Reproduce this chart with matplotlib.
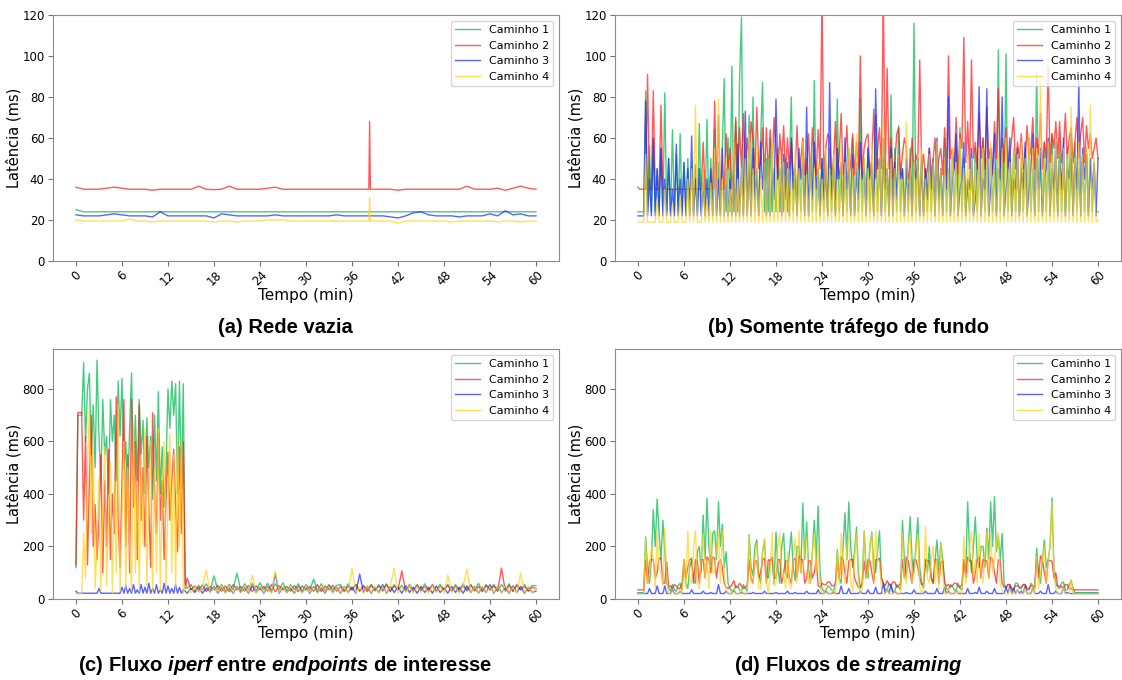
import numpy as np
import matplotlib
matplotlib.use('Agg')
import matplotlib.pyplot as plt

# ── Data (latency in ms) ──────────────────────────────────────────────────
SERIES = ['Caminho 1', 'Caminho 2', 'Caminho 3', 'Caminho 4']
COLORS = ['#00b84f', '#ff1a1a', '#1a2aff', '#ffd21f']
X_TICKS = [0, 6, 12, 18, 24, 30, 36, 42, 48, 54, 60]
TITLES = ['(a) Rede vazia',
          '(b) Somente tráfego de fundo',
          r'(c) Fluxo $\mathit{iperf}$ entre $\mathit{endpoints}$ de interesse',
          r'(d) Fluxos de $\mathit{streaming}$']

# (a) idle network, minute grid plus the spike at 38.3 min
T_A = [0, 1, 2, 3, 4, 5, 6, 7, 8, 9, 10, 11, 12, 13, 14, 15, 16, 17, 18, 19,
       20, 21, 22, 23, 24, 25, 26, 27, 28, 29, 30, 31, 32, 33, 34, 35, 36, 37,
       38, 38.2, 38.3, 38.4, 39, 40, 41, 42, 43, 44, 45, 46, 47, 48, 49, 50,
       51, 52, 53, 54, 55, 56, 57, 58, 59, 60]
C1_A = [25, 24, 24, 24, 24, 24, 24, 24, 24, 24, 24, 24, 24, 24, 24, 24, 24, 24,
        24, 24, 24, 24, 24, 24, 24, 24, 24, 24, 24, 24, 24, 24, 24, 24, 24, 24,
        24, 24, 24, 24, 24, 24, 24, 24, 24, 24, 24, 24, 24, 24, 24, 24, 24, 24,
        24, 24, 24, 24, 24, 24, 24, 24, 24, 24]
C2_A = [36, 35, 35, 35, 35.5, 36, 35.5, 35, 35, 35, 34.5, 35, 35, 35, 35, 35,
        36.5, 35, 34.8, 35, 36.5, 35, 35, 35, 35, 35.5, 36, 35, 35, 35, 35, 35,
        35, 35, 35, 35, 35, 35, 35, 35, 68, 35, 35, 35, 35, 34.5, 35, 35, 35,
        35, 35, 35, 35, 35, 36.5, 35, 35, 35, 35.5, 34.5, 35.5, 36.5, 35.5, 35]
C3_A = [22.5, 22, 22, 22, 22.5, 23, 22.5, 22, 22, 22, 21.5, 24, 22, 22, 22, 22,
        22, 22, 21, 23, 22.5, 22, 22, 22, 22, 22, 22.5, 22, 22, 22, 22, 22, 22,
        22, 22.5, 22, 22, 22, 22, 22, 22, 22, 22, 22, 21.5, 21, 22, 23.5, 24,
        22.5, 22, 22, 22, 21.5, 22, 22, 22, 23, 22, 24.5, 22.5, 23, 22, 22]
C4_A = [20, 19.5, 19.5, 19.5, 19.5, 19.5, 19.5, 20.5, 19.5, 19.5, 19, 19.5,
        19.5, 19.5, 19.5, 19.5, 19.5, 19.5, 19, 19.5, 19.5, 19, 19.5, 19.5,
        19.5, 20, 20, 20, 19.5, 19.5, 19.5, 19.5, 19.5, 19.5, 19.5, 19.5, 19.5,
        19.5, 19.5, 19.5, 31, 19.5, 19.5, 19.5, 19.5, 18.5, 19.5, 19.5, 19.5,
        19.5, 19.5, 19.5, 19, 19.5, 19.5, 19.5, 19.5, 19.5, 19, 19.5, 19.5, 19,
        19.5, 19.5]

# (b) and (d) sampled every quarter minute (one row = 5 min)
T_BD = np.arange(0, 60.001, 0.25)
C1_B = [24, 24, 24, 24, 83, 24, 56, 24, 58, 24, 45, 24, 55, 24, 82, 24, 50, 24, 64, 24,
        52, 24, 62, 24, 48, 24, 50, 24, 46, 24, 47, 24, 67, 24, 45, 24, 69, 24, 50, 24,
        64, 24, 48, 24, 55, 89, 24, 60, 24, 95, 24, 68, 24, 88, 119, 24, 50, 24, 71, 24,
        80, 24, 45, 24, 60, 87, 24, 50, 24, 60, 24, 45, 24, 55, 24, 48, 24, 50, 24, 45,
        80, 24, 45, 24, 50, 24, 55, 24, 50, 24, 45, 24, 88, 24, 45, 24, 50, 24, 45, 24,
        55, 24, 50, 24, 79, 24, 45, 24, 50, 24, 55, 24, 60, 24, 45, 24, 79, 24, 50, 24,
        55, 24, 45, 24, 71, 24, 50, 24, 50, 24, 45, 24, 81, 24, 55, 24, 66, 24, 45, 24,
        45, 24, 55, 24, 116, 24, 50, 24, 52, 24, 45, 24, 48, 24, 50, 24, 55, 24, 45, 24,
        60, 24, 45, 24, 50, 24, 55, 24, 65, 24, 50, 24, 38, 24, 45, 24, 55, 24, 50, 24,
        60, 24, 50, 24, 55, 24, 45, 24, 103, 24, 55, 24, 101, 24, 50, 24, 55, 24, 45, 24,
        50, 24, 55, 24, 60, 24, 45, 24, 92, 24, 50, 24, 58, 24, 55, 24, 62, 24, 50, 24,
        60, 24, 45, 24, 55, 24, 50, 24, 58, 24, 45, 24, 52, 24, 55, 24, 50, 24, 45, 24,
        24]
C2_B = [36, 35, 35, 35, 35, 91, 35, 35, 83, 35, 35, 35, 76, 35, 35, 35, 35, 35, 35, 35,
        35, 35, 35, 35, 35, 35, 35, 35, 35, 35, 35, 35, 35, 35, 58, 35, 35, 35, 35, 35,
        78, 35, 71, 35, 35, 35, 62, 45, 55, 35, 45, 70, 40, 65, 45, 72, 42, 60, 50, 68,
        60, 42, 75, 45, 48, 65, 40, 65, 42, 64, 45, 70, 55, 40, 62, 48, 66, 42, 60, 45,
        58, 42, 45, 66, 40, 50, 60, 42, 45, 62, 40, 65, 50, 42, 64, 45, 130, 40, 55, 62,
        60, 42, 48, 68, 40, 52, 72, 42, 50, 66, 40, 48, 62, 42, 58, 45, 100, 42, 55, 60,
        62, 42, 50, 74, 40, 55, 65, 45, 130, 42, 94, 45, 60, 40, 48, 62, 65, 42, 52, 60,
        55, 40, 45, 60, 42, 52, 48, 98, 45, 52, 40, 45, 55, 42, 50, 60, 40, 50, 55, 42,
        65, 42, 100, 50, 55, 45, 70, 42, 62, 55, 109, 48, 68, 45, 98, 50, 58, 45, 72, 50,
        60, 45, 75, 50, 55, 42, 68, 50, 84, 45, 60, 48, 65, 45, 52, 60, 70, 45, 58, 50,
        62, 45, 48, 66, 50, 55, 70, 45, 60, 52, 72, 45, 58, 50, 95, 48, 62, 55, 68, 50,
        68, 48, 55, 72, 50, 60, 65, 48, 58, 70, 50, 62, 70, 48, 66, 55, 62, 50, 55, 60,
        50]
C3_B = [22, 22, 22, 22, 78, 22, 40, 22, 60, 22, 45, 22, 55, 22, 40, 22, 50, 22, 35, 22,
        57, 22, 40, 22, 48, 22, 45, 22, 61, 22, 40, 22, 45, 22, 38, 22, 40, 22, 45, 22,
        48, 22, 40, 22, 55, 22, 45, 22, 40, 22, 50, 22, 57, 22, 45, 22, 73, 22, 48, 22,
        55, 30, 45, 22, 58, 35, 48, 22, 50, 22, 45, 30, 79, 40, 45, 22, 52, 30, 48, 22,
        60, 35, 45, 22, 55, 40, 48, 22, 75, 22, 50, 30, 58, 35, 45, 22, 50, 30, 48, 22,
        87, 30, 45, 22, 55, 40, 48, 22, 60, 35, 45, 22, 52, 22, 48, 30, 58, 40, 45, 22,
        55, 40, 48, 22, 84, 45, 50, 22, 60, 35, 45, 22, 55, 22, 48, 30, 52, 40, 45, 22,
        50, 30, 45, 22, 45, 40, 50, 22, 48, 22, 45, 30, 55, 35, 48, 22, 60, 30, 45, 22,
        50, 35, 80, 22, 40, 45, 62, 22, 35, 40, 58, 22, 40, 35, 55, 22, 30, 45, 85, 22,
        40, 35, 84, 22, 35, 45, 62, 22, 45, 40, 80, 22, 35, 45, 60, 22, 40, 35, 55, 22,
        45, 35, 58, 22, 35, 45, 62, 22, 50, 35, 55, 22, 40, 45, 60, 22, 45, 35, 58, 22,
        50, 35, 60, 22, 45, 40, 62, 22, 48, 35, 88, 22, 55, 40, 52, 22, 50, 35, 48, 22,
        50]
C4_B = [19, 19, 19, 19, 52, 19, 19, 19, 19, 19, 30, 19, 19, 19, 35, 19, 19, 19, 28, 19,
        19, 19, 32, 19, 19, 19, 40, 19, 45, 19, 76, 19, 19, 19, 45, 19, 30, 19, 38, 19,
        55, 19, 79, 19, 40, 19, 50, 19, 35, 19, 58, 19, 40, 19, 45, 19, 50, 19, 62, 19,
        45, 19, 55, 19, 40, 19, 48, 19, 50, 19, 58, 19, 42, 19, 52, 19, 48, 19, 45, 19,
        40, 19, 55, 19, 45, 19, 58, 19, 42, 19, 50, 19, 45, 19, 48, 19, 40, 19, 55, 19,
        45, 19, 52, 19, 40, 19, 58, 19, 48, 19, 55, 19, 45, 19, 62, 19, 42, 19, 50, 19,
        45, 19, 58, 19, 40, 19, 55, 19, 70, 19, 48, 19, 50, 19, 45, 19, 52, 19, 40, 19,
        68, 19, 45, 19, 48, 19, 52, 19, 55, 19, 40, 19, 52, 19, 48, 19, 58, 19, 45, 19,
        50, 19, 45, 19, 55, 19, 48, 19, 60, 19, 45, 19, 52, 19, 50, 19, 48, 19, 55, 19,
        55, 19, 50, 19, 58, 19, 45, 19, 52, 19, 55, 19, 60, 19, 48, 19, 55, 19, 52, 19,
        58, 19, 50, 19, 62, 19, 55, 19, 55, 19, 88, 19, 50, 19, 58, 19, 52, 19, 60, 19,
        50, 19, 55, 19, 52, 19, 75, 19, 50, 19, 58, 19, 52, 19, 55, 19, 76, 19, 50, 19,
        20]

C1_D = [24, 24, 24, 24, 236, 120, 60, 150, 340, 200, 381, 250, 150, 300, 180, 60, 40, 30, 55, 35,
        30, 50, 60, 35, 130, 60, 40, 120, 150, 70, 60, 180, 200, 100, 320, 150, 385, 200, 130, 250,
        260, 150, 370, 200, 285, 120, 180, 60, 40, 30, 30, 50, 45, 35, 30, 55, 40, 30, 245, 120,
        90, 200, 225, 100, 60, 180, 225, 90, 80, 150, 150, 60, 255, 120, 60, 200, 250, 100, 80, 180,
        255, 120, 70, 200, 200, 100, 366, 150, 293, 120, 60, 180, 300, 150, 354, 100, 40, 30, 30, 50,
        45, 35, 30, 55, 187, 80, 60, 200, 328, 150, 370, 200, 120, 180, 274, 100, 40, 60, 259, 120,
        80, 200, 255, 120, 100, 180, 260, 80, 60, 35, 35, 60, 50, 30, 30, 55, 45, 35, 300, 150,
        80, 200, 313, 150, 100, 200, 310, 120, 60, 40, 150, 100, 200, 80, 60, 150, 225, 100, 215, 150,
        60, 40, 35, 55, 50, 35, 30, 60, 40, 35, 150, 100, 370, 180, 100, 200, 313, 150, 120, 200,
        200, 120, 270, 150, 370, 200, 390, 180, 240, 150, 250, 60, 40, 55, 55, 35, 35, 60, 60, 40,
        40, 55, 55, 35, 35, 60, 50, 40, 194, 100, 60, 150, 225, 120, 150, 200, 385, 120, 60, 45,
        40, 60, 65, 35, 35, 55, 70, 40, 24, 24, 24, 24, 24, 24, 24, 24, 24, 24, 24, 24,
        24]
C2_D = [35, 35, 35, 35, 150, 60, 140, 150, 150, 80, 100, 155, 155, 60, 60, 140, 45, 50, 40, 55,
        50, 40, 40, 60, 150, 80, 120, 150, 155, 60, 150, 145, 60, 150, 150, 80, 160, 150, 100, 160,
        155, 80, 140, 150, 120, 60, 45, 40, 45, 55, 70, 45, 45, 60, 50, 40, 45, 50, 150, 80,
        60, 145, 145, 80, 100, 150, 155, 60, 150, 145, 160, 80, 80, 150, 150, 60, 100, 145, 145, 80,
        60, 150, 155, 80, 165, 150, 150, 60, 80, 145, 145, 80, 100, 150, 50, 45, 60, 55, 55, 65,
        65, 50, 50, 60, 140, 80, 160, 150, 100, 60, 145, 150, 150, 80, 60, 45, 45, 60, 145, 80,
        150, 145, 100, 60, 150, 150, 155, 80, 60, 50, 70, 55, 50, 65, 65, 45, 50, 60, 150, 80,
        160, 145, 100, 60, 150, 150, 120, 80, 55, 60, 150, 145, 145, 80, 60, 150, 150, 60, 140, 145,
        60, 50, 55, 45, 50, 60, 60, 50, 45, 55, 150, 80, 160, 145, 145, 60, 100, 150, 160, 80,
        150, 145, 145, 80, 160, 150, 100, 60, 150, 145, 60, 45, 45, 55, 55, 40, 40, 50, 50, 45,
        45, 55, 55, 40, 40, 50, 50, 45, 150, 80, 165, 150, 100, 60, 150, 145, 145, 80, 100, 50,
        50, 45, 45, 55, 55, 40, 40, 35, 35, 35, 35, 35, 35, 35, 35, 35, 35, 35, 35, 35,
        35]
C3_D = [21, 21, 21, 21, 21, 21, 40, 21, 21, 21, 50, 21, 21, 21, 50, 21, 21, 21, 35, 21,
        21, 21, 30, 21, 21, 21, 21, 21, 35, 21, 21, 21, 21, 21, 30, 21, 21, 21, 25, 21,
        21, 21, 55, 21, 21, 21, 30, 21, 21, 21, 35, 21, 21, 21, 25, 21, 21, 21, 21, 21,
        25, 21, 21, 21, 21, 21, 30, 21, 21, 21, 21, 21, 25, 21, 21, 21, 21, 21, 30, 21,
        21, 21, 25, 21, 21, 21, 21, 21, 30, 21, 21, 21, 21, 21, 35, 21, 21, 21, 30, 21,
        21, 21, 25, 21, 21, 21, 50, 21, 21, 21, 40, 21, 21, 21, 21, 21, 30, 21, 21, 21,
        35, 21, 21, 21, 45, 21, 21, 21, 60, 21, 40, 21, 55, 21, 30, 21, 21, 21, 21, 21,
        25, 21, 21, 21, 35, 21, 21, 21, 21, 21, 30, 21, 21, 21, 21, 21, 40, 21, 21, 21,
        45, 21, 30, 21, 21, 21, 35, 21, 21, 21, 21, 21, 40, 21, 21, 21, 25, 21, 45, 21,
        21, 21, 30, 21, 21, 21, 40, 21, 21, 21, 21, 21, 45, 21, 50, 21, 40, 21, 35, 21,
        30, 21, 50, 21, 21, 21, 45, 21, 21, 21, 30, 21, 21, 21, 55, 21, 21, 21, 30, 21,
        21, 21, 45, 21, 25, 21, 21, 21, 21, 21, 21, 21, 21, 21, 21, 21, 21, 21, 21, 21,
        21]
C4_D = [20, 20, 20, 20, 230, 60, 100, 200, 150, 40, 255, 120, 100, 50, 270, 80, 20, 20, 30, 20,
        20, 20, 35, 20, 150, 40, 259, 80, 60, 200, 259, 60, 40, 150, 250, 80, 150, 40, 260, 100,
        100, 200, 255, 60, 260, 100, 30, 20, 20, 20, 40, 20, 20, 20, 35, 20, 20, 20, 240, 60,
        60, 150, 210, 40, 40, 180, 230, 60, 20, 100, 255, 50, 60, 200, 250, 80, 100, 40, 180, 60,
        40, 150, 230, 60, 260, 100, 100, 200, 240, 60, 60, 180, 250, 100, 200, 50, 20, 20, 40, 20,
        20, 20, 35, 20, 180, 60, 250, 100, 60, 200, 240, 60, 30, 150, 250, 60, 20, 40, 255, 80,
        100, 200, 250, 60, 260, 150, 140, 40, 20, 20, 40, 20, 20, 20, 35, 20, 20, 20, 250, 80,
        60, 200, 240, 60, 100, 180, 245, 50, 20, 40, 275, 80, 60, 150, 200, 60, 150, 40, 210, 100,
        20, 20, 40, 20, 20, 20, 35, 20, 30, 20, 240, 60, 100, 200, 260, 80, 150, 60, 250, 100,
        60, 180, 255, 80, 240, 100, 150, 200, 255, 60, 30, 20, 20, 20, 40, 20, 20, 20, 35, 20,
        20, 20, 40, 20, 20, 20, 50, 20, 160, 40, 100, 150, 200, 60, 150, 200, 370, 100, 40, 20,
        20, 20, 45, 20, 20, 20, 75, 20, 20, 20, 20, 20, 20, 20, 20, 20, 20, 20, 20, 20,
        20]

# (c) quarter-minute samples while iperf runs, then half-minute samples
T_C = np.concatenate([np.arange(0, 14.3, 0.25), np.arange(14.5, 60.01, 0.5)])
C1_C = [120, 700, 700, 700, 900, 600, 800, 860, 550, 740,
        500, 910, 620, 450, 760, 550, 620, 400, 760, 600,
        700, 450, 830, 620, 840, 500, 600, 400, 650, 860,
        500, 700, 450, 760, 550, 680, 400, 690, 500, 620,
        380, 700, 450, 790, 400, 580, 350, 500, 800, 650,
        830, 700, 820, 400, 830, 420, 820, 60,
        40, 55, 30, 52, 35, 58, 30, 88, 35, 55,
        30, 56, 35, 99, 30, 58, 35, 60, 30, 62,
        35, 60, 30, 58, 35, 62, 30, 55, 35, 58,
        30, 55, 35, 76, 30, 58, 30, 55, 35, 52,
        55, 30, 58, 35, 55, 30, 52, 35, 56, 30,
        54, 35, 58, 30, 55, 35, 52, 30, 56, 35,
        55, 30, 58, 35, 52, 30, 55, 35, 56, 30,
        55, 35, 58, 30, 52, 35, 60, 30, 55, 35,
        56, 30, 55, 35, 58, 30, 52, 35, 55, 30,
        52, 50]
C2_C = [130, 710, 710, 710, 300, 620, 130, 450, 700, 200,
        360, 150, 300, 550, 100, 450, 200, 570, 150, 400,
        250, 770, 300, 120, 450, 760, 200, 550, 100, 760,
        350, 600, 150, 740, 300, 500, 200, 620, 350, 120,
        710, 400, 250, 630, 300, 450, 150, 380, 560, 300,
        450, 570, 350, 180, 580, 250, 600, 40,
        80, 35, 50, 30, 55, 28, 48, 35, 52, 30,
        50, 28, 55, 35, 48, 30, 52, 28, 50, 35,
        48, 30, 55, 28, 50, 35, 48, 30, 52, 28,
        50, 35, 48, 30, 55, 28, 50, 35, 52, 30,
        48, 28, 50, 35, 55, 30, 48, 28, 52, 35,
        50, 30, 55, 28, 50, 35, 107, 30, 48, 28,
        52, 35, 48, 30, 55, 28, 50, 35, 52, 30,
        48, 28, 50, 35, 55, 30, 48, 28, 52, 35,
        50, 30, 118, 30, 52, 28, 55, 35, 48, 30,
        45, 40]
C3_C = [30, 22, 22, 22, 22, 22, 22, 22, 22, 22,
        22, 22, 40, 22, 22, 22, 22, 22, 22, 22,
        22, 22, 22, 22, 45, 22, 50, 22, 40, 22,
        55, 22, 35, 22, 55, 22, 45, 22, 60, 22,
        40, 22, 55, 22, 35, 22, 60, 22, 50, 22,
        40, 22, 55, 22, 45, 22, 35, 30,
        22, 40, 25, 45, 22, 42, 28, 48, 22, 45,
        25, 42, 22, 48, 25, 45, 22, 50, 25, 45,
        22, 48, 25, 95, 22, 45, 25, 42, 22, 48,
        25, 45, 22, 48, 25, 42, 22, 50, 25, 45,
        22, 48, 25, 45, 22, 95, 25, 48, 22, 45,
        25, 55, 22, 48, 25, 45, 22, 50, 25, 45,
        22, 48, 25, 45, 22, 50, 25, 42, 22, 48,
        25, 45, 22, 50, 25, 48, 22, 45, 25, 55,
        22, 48, 25, 45, 22, 50, 25, 48, 22, 45,
        25, 30]
C4_C = [20, 20, 20, 20, 250, 80, 500, 730, 250, 580,
        40, 200, 460, 30, 350, 580, 50, 300, 520, 20,
        450, 100, 740, 30, 300, 600, 40, 500, 200, 30,
        660, 100, 450, 30, 550, 200, 650, 50, 400, 600,
        30, 500, 100, 650, 30, 400, 600, 50, 350, 630,
        100, 550, 40, 630, 200, 600, 20, 50,
        50, 22, 45, 25, 48, 110, 22, 45, 25, 50,
        22, 48, 25, 45, 22, 50, 25, 91, 22, 48,
        25, 45, 22, 107, 25, 48, 22, 50, 25, 45,
        22, 48, 25, 45, 22, 50, 25, 48, 22, 45,
        25, 48, 22, 118, 25, 45, 22, 50, 25, 48,
        22, 45, 25, 48, 118, 22, 45, 25, 50, 22,
        48, 25, 45, 22, 50, 25, 48, 22, 91, 25,
        45, 22, 50, 114, 25, 48, 22, 50, 25, 45,
        25, 48, 22, 50, 25, 45, 22, 99, 25, 48,
        22, 40]

PANELS = [
    (T_A, [C1_A, C2_A, C3_A, C4_A], (0, 120), [0, 20, 40, 60, 80, 100, 120]),
    (T_BD, [C1_B, C2_B, C3_B, C4_B], (0, 120), [0, 20, 40, 60, 80, 100, 120]),
    (T_C, [C1_C, C2_C, C3_C, C4_C], (0, 952), [0, 200, 400, 600, 800]),
    (T_BD, [C1_D, C2_D, C3_D, C4_D], (0, 952), [0, 200, 400, 600, 800]),
]

# ── Layout (figure fractions, 1122x680 px) ────────────────────────────────
RECTS = [[0.0472, 0.6162, 0.451, 0.3618],
         [0.5481, 0.6162, 0.451, 0.3618],
         [0.0472, 0.1191, 0.451, 0.3676],
         [0.5481, 0.1191, 0.451, 0.3676]]
TITLE_POS = [(0.254, 0.518), (0.756, 0.518), (0.254, 0.022), (0.756, 0.022)]

plt.rcParams['mathtext.fontset'] = 'custom'
plt.rcParams['mathtext.it'] = 'Liberation Sans:italic:bold'
plt.rcParams['mathtext.rm'] = 'Liberation Sans:bold'

fig = plt.figure(figsize=(11.22, 6.8), dpi=100)

for (t, ys, ylim, yticks), rect, title, tpos in zip(PANELS, RECTS, TITLES, TITLE_POS):
    ax = fig.add_axes(rect)
    for y, name, col in zip(ys, SERIES, COLORS):
        ax.plot(t, y, color=col, lw=1.0, alpha=0.72, label=name)
    ax.set_xlim(-3, 63)
    ax.set_ylim(*ylim)
    ax.set_yticks(yticks)
    ax.set_xticks(X_TICKS)
    ax.tick_params(axis='x', labelrotation=45, labelsize=8.5, color='0.45', pad=2)
    ax.tick_params(axis='y', labelsize=8.5, color='0.45', pad=2.5)
    for sp in ax.spines.values():
        sp.set_color('0.55')
        sp.set_linewidth(0.8)
    ax.set_xlabel('Tempo (min)', fontsize=11, labelpad=0)
    ax.set_ylabel('Latência (ms)', fontsize=10.5)
    ax.yaxis.set_label_coords(-0.062, 0.5)
    ax.legend(loc='upper right', fontsize=8, handlelength=2.2)
    fig.text(tpos[0], tpos[1], title, ha='center', va='center',
             fontsize=14.5, fontweight='bold', family='Liberation Sans')

fig.savefig('out.png', dpi=100)
